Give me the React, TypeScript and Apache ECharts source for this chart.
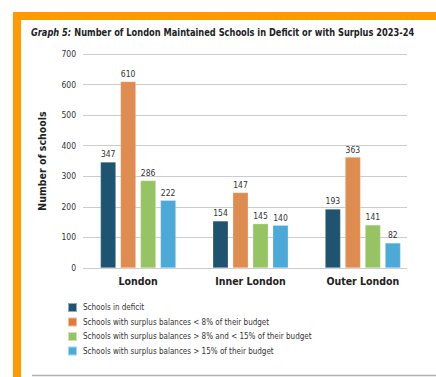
import React, { useEffect, useRef } from "react";
import * as echarts from "echarts";

const categories = ["London", "Inner London", "Outer London"];
const seriesNames = [
  "Schools in deficit",
  "Schools with surplus balances < 8% of their budget",
  "Schools with surplus balances > 8% and < 15% of their budget",
  "Schools with surplus balances > 15% of their budget",
];
const deficit = [347, 154, 193];
const surplusUnder8 = [610, 247, 363];
const surplus8to15 = [286, 145, 141];
const surplusOver15 = [222, 140, 82];
// value labels as printed in the reference
const deficitLabels = ["347", "154", "193"];
const surplusUnder8Labels = ["610", "147", "363"];
const surplus8to15Labels = ["286", "145", "141"];
const surplusOver15Labels = ["222", "140", "82"];
const yTicks = [0, 100, 200, 300, 400, 500, 600, 700];

const barColors = ["#1E5470", "#DF8C51", "#96C462", "#4DAAD8"];
const legendColors = ["#1E5470", "#E07A3A", "#96C462", "#4DAAD8"];
const FONT = "'DejaVu Sans Condensed', 'Liberation Sans', sans-serif";

export default function App() {
  const ref = useRef<HTMLDivElement>(null);
  useEffect(() => {
    const chart = echarts.init(ref.current!, undefined, { renderer: "svg" });
    const values = [deficit, surplusUnder8, surplus8to15, surplusOver15];
    const labels = [deficitLabels, surplusUnder8Labels, surplus8to15Labels, surplusOver15Labels];
    chart.setOption({
      animation: false,
      textStyle: { fontFamily: FONT },
      graphic: [
        { type: "rect", shape: { x: 13, y: 12, width: 423, height: 8 }, style: { fill: "#FF9A00" } },
        { type: "rect", shape: { x: 13, y: 12, width: 8, height: 365 }, style: { fill: "#FF9A00" } },
        { type: "line", shape: { x1: 32, y1: 375.5, x2: 436, y2: 375.5 }, style: { stroke: "#B0B0B0", lineWidth: 1.5 } },
        {
          type: "text",
          x: 31,
          y: 32,
          scaleX: 0.92,
          style: {
            text: "{i|Graph 5:} {b|Number of London Maintained Schools in Deficit or with Surplus 2023-24}",
            verticalAlign: "middle",
            align: "left",
            rich: {
              i: { fontFamily: FONT, fontSize: 10, fontWeight: "bold", fontStyle: "italic", fill: "#222" },
              b: { fontFamily: FONT, fontSize: 10, fontWeight: "bold", fill: "#222" },
            },
          },
        },
      ],
      legend: {
        orient: "vertical",
        left: 67,
        top: 302,
        padding: 0,
        itemWidth: 9,
        itemHeight: 9,
        itemGap: 3.5,
        icon: "rect",
        textStyle: { fontFamily: FONT, fontSize: 8, lineHeight: 10, color: "#333", padding: [0, 0, 0, 1] },
        data: seriesNames.map((n, i) => ({ name: n, itemStyle: { color: legendColors[i] } })),
      },
      grid: [
        { left: 82, right: 17, top: 54, bottom: 109 },
        { left: 83, right: 29, top: 54, bottom: 109 },
      ],
      xAxis: [
        {
          type: "category",
          gridIndex: 0,
          data: categories,
          axisLine: { show: false },
          axisTick: { show: false },
          axisLabel: { fontFamily: FONT, fontSize: 10.5, fontWeight: "bold", color: "#222", margin: 7 },
        },
        { type: "value", gridIndex: 1, show: false },
      ],
      yAxis: [
        { type: "value", gridIndex: 0, min: 0, max: 700, interval: 100, show: false },
        {
          type: "value",
          gridIndex: 1,
          min: yTicks[0],
          max: yTicks[yTicks.length - 1],
          interval: 100,
          name: "Number of schools",
          nameLocation: "middle",
          nameGap: 36,
          nameTextStyle: { fontFamily: FONT, fontSize: 10.5, fontWeight: "bold", color: "#222" },
          axisLine: { show: false },
          axisTick: { show: false },
          axisLabel: { fontFamily: FONT, fontSize: 8.5, color: "#333", margin: 7 },
          splitLine: { lineStyle: { color: "#CCCCCC", width: 1 } },
        },
      ],
      series: seriesNames.map((name, i) => ({
        type: "bar",
        name,
        xAxisIndex: 0,
        yAxisIndex: 0,
        data: values[i],
        barWidth: 15.5,
        barGap: "29%",
        itemStyle: { color: barColors[i], borderColor: "rgba(255,255,255,0.5)", borderWidth: 0.5 },
        label: {
          show: true,
          position: "top",
          distance: 3,
          fontFamily: FONT,
          fontSize: 8.5,
          color: "#333",
          formatter: (p: any) => labels[i][p.dataIndex],
        },
      })),
    });
    return () => chart.dispose();
  }, []);
  return (
    <div
      ref={ref}
      style={{ position: "fixed", left: 0, top: 0, width: 436, height: 377, background: "#fff" }}
    />
  );
}
